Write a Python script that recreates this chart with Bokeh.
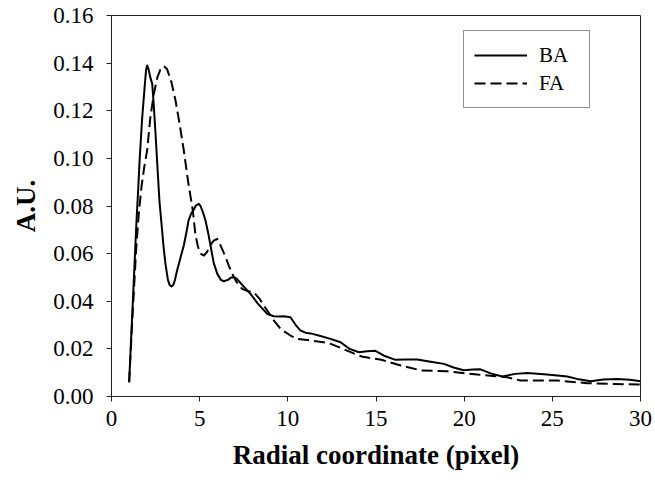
from bokeh.plotting import figure
from bokeh.models import Legend, LegendItem, FixedTicker
from bokeh.embed import file_html
from bokeh.resources import INLINE

# Data
ba_x = [1.0, 1.42, 1.5, 1.6, 1.74, 1.89, 1.96, 2.02, 2.1, 2.2, 2.31, 2.4, 2.5, 2.6, 2.72, 2.87,
        2.95, 3.06, 3.2, 3.3, 3.4, 3.5, 3.6, 3.72, 3.9, 4.1, 4.25, 4.37, 4.5, 4.67, 4.8, 4.95,
        5.05, 5.2, 5.33, 5.5, 5.65, 5.8, 6.0, 6.2, 6.37, 6.6, 6.8, 6.94, 7.1, 7.4, 7.88, 8.3,
        8.83, 9.2, 9.5, 9.77, 10.15, 10.45, 10.72, 11.0, 11.29, 11.8, 12.42, 12.99, 13.5, 14.03,
        14.5, 14.97, 15.5, 16.11, 16.7, 17.34, 18.1, 18.85, 19.4, 19.97, 20.5, 20.93, 21.5,
        22.16, 22.9, 23.58, 24.7, 25.85, 26.5, 27.17, 27.9, 28.68, 29.4, 30.0]
ba_y = [0.006, 0.074, 0.085, 0.1, 0.117, 0.131, 0.137, 0.139, 0.1375, 0.134, 0.1313, 0.122,
        0.11, 0.097, 0.082, 0.0697, 0.063, 0.0557, 0.049, 0.0468, 0.0462, 0.0468, 0.049, 0.0529,
        0.058, 0.0634, 0.069, 0.0739, 0.0765, 0.0785, 0.0803, 0.0809, 0.08, 0.077, 0.0739,
        0.068, 0.062, 0.056, 0.0515, 0.049, 0.0484, 0.049, 0.05, 0.0501, 0.0495, 0.047, 0.0431,
        0.039, 0.0347, 0.0337, 0.0336, 0.0337, 0.0333, 0.03, 0.0277, 0.0268, 0.0265, 0.0255,
        0.0242, 0.0228, 0.02, 0.0186, 0.019, 0.0192, 0.017, 0.0154, 0.0155, 0.0155, 0.0146,
        0.0137, 0.0122, 0.011, 0.0113, 0.0114, 0.0097, 0.0084, 0.0095, 0.0099, 0.0092, 0.0084,
        0.0072, 0.0064, 0.0071, 0.0074, 0.007, 0.0064]

fa_x = [1.0, 1.2, 1.4, 1.55, 1.7, 1.85, 2.02, 2.2, 2.4, 2.6, 2.8, 2.97, 3.15, 3.4, 3.63, 3.85,
        4.1, 4.35, 4.61, 4.76, 4.9, 5.05, 5.24, 5.4, 5.6, 5.8, 5.99, 6.15, 6.3, 6.47, 6.65,
        6.85, 7.1, 7.41, 7.75, 8.07, 8.4, 8.83, 9.2, 9.59, 10.15, 10.53, 11.3, 12.0, 12.4,
        12.99, 13.6, 14.18, 15.31, 16.4, 17.58, 19.04, 20.74, 22.44, 23.2, 25.28, 26.98,
        28.49, 30.0]
fa_y = [0.006, 0.035, 0.062, 0.077, 0.088, 0.096, 0.1033, 0.117, 0.127, 0.134, 0.1378, 0.1387,
        0.1375, 0.132, 0.1243, 0.115, 0.1033, 0.09, 0.0781, 0.068, 0.063, 0.06, 0.0592, 0.0605,
        0.0635, 0.0655, 0.0662, 0.064, 0.0615, 0.0585, 0.055, 0.0515, 0.048, 0.0452, 0.0442,
        0.0438, 0.041, 0.0361, 0.032, 0.0284, 0.0256, 0.0242, 0.0235, 0.0228, 0.0222, 0.0204,
        0.0185, 0.0168, 0.0154, 0.013, 0.0109, 0.0106, 0.0092, 0.0081, 0.0067, 0.0067, 0.0056,
        0.0053, 0.005]

x_ticks = [0, 5, 10, 15, 20, 25, 30]
y_ticks = [0.0, 0.02, 0.04, 0.06, 0.08, 0.10, 0.12, 0.14, 0.16]
y_tick_labels = ["0.00", "0.02", "0.04", "0.06", "0.08", "0.10", "0.12", "0.14", "0.16"]

FONT = "Liberation Serif"

p = figure(width=655, height=494, x_range=(0, 30), y_range=(0, 0.16),
           output_backend="svg", toolbar_location=None,
           min_border_left=111, min_border_right=15, min_border_top=15, min_border_bottom=98)
p.grid.visible = False
p.background_fill_color = "white"
p.border_fill_color = "white"
p.outline_line_color = "#222222"
p.outline_line_width = 1

r_ba = p.line(ba_x, ba_y, line_color="black", line_width=2, line_join="round")
r_fa = p.line(fa_x, fa_y, line_color="black", line_width=2, line_dash="11 5", line_join="round")

p.xaxis.ticker = FixedTicker(ticks=x_ticks)
p.yaxis.ticker = FixedTicker(ticks=y_ticks)
p.yaxis.major_label_overrides = {t: l for t, l in zip(y_ticks, y_tick_labels)}

for ax in (p.xaxis[0], p.yaxis[0]):
    ax.axis_line_color = "#222222"
    ax.major_tick_line_color = "#222222"
    ax.major_tick_in = 0
    ax.major_tick_out = 5
    ax.minor_tick_line_color = None
    ax.major_label_text_font = FONT
    ax.major_label_text_font_size = "23px"
    ax.major_label_text_color = "black"
    ax.axis_label_text_font = FONT
    ax.axis_label_text_font_size = "27px"
    ax.axis_label_text_font_style = "bold"
    ax.axis_label_text_color = "black"

p.xaxis.axis_label = "Radial coordinate (pixel)"
p.yaxis.axis_label = "A.U."
p.xaxis.major_label_standoff = 9
p.xaxis.axis_label_standoff = 11
p.yaxis.major_label_standoff = 13
p.yaxis.axis_label_standoff = 9

legend = Legend(items=[LegendItem(label="BA", renderers=[r_ba]),
                       LegendItem(label="FA", renderers=[r_fa])],
                location=(352, 288))
legend.label_text_font = FONT
legend.label_text_font_size = "21px"
legend.label_text_color = "black"
legend.glyph_width = 53
legend.glyph_height = 28
legend.label_height = 28
legend.label_width = 40
legend.label_standoff = 12
legend.padding = 10
legend.spacing = 0
legend.margin = 0
legend.border_line_color = "#222222"
legend.border_line_width = 1
legend.background_fill_alpha = 1
p.add_layout(legend, "center")

open("out.html", "w").write(file_html(p, INLINE))
